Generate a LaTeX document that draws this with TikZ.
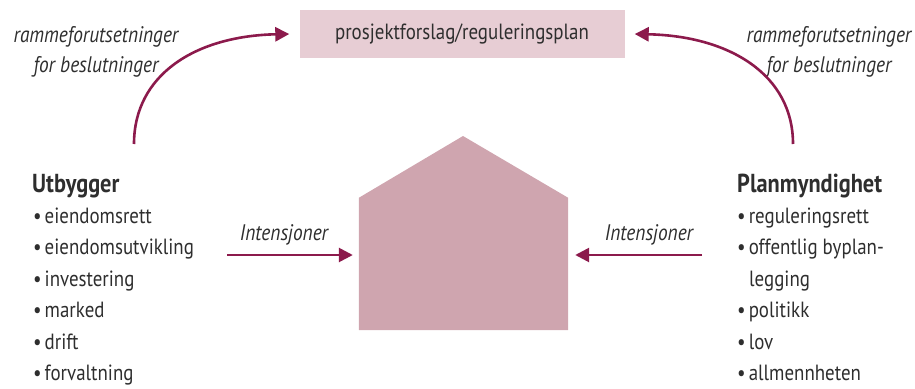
\documentclass[tikz,border=0pt]{standalone}
\usepackage{fontspec}
\setmainfont{PT Sans}[FakeStretch=0.86]
\usetikzlibrary{arrows.meta}
\definecolor{arr}{HTML}{8C1A4C}
\definecolor{boxc}{HTML}{E7CDD4}
\definecolor{housec}{HTML}{CFA5AF}
\definecolor{txt}{HTML}{2E2E2E}
\newcommand{\bul}{•\hspace{3pt}}
\tikzset{
  conn/.style={draw=arr, line width=2.6pt, -{Triangle[length=14pt,width=14pt]}},
  lab/.style={font=\fontsize{22.5}{30}\selectfont\itshape, text=txt, inner sep=0pt},
  head/.style={font=\fontsize{26}{28}\selectfont\bfseries, text=txt, anchor=base west, inner sep=0pt},
  item/.style={font=\fontsize{22}{24}\selectfont, text=txt, anchor=base west, inner sep=0pt},
}
\begin{document}
\begin{tikzpicture}[x=1pt,y=-1pt]
\useasboundingbox (0,0) rectangle (915,388);
% top box
\node[fill=boxc, minimum width=325pt, minimum height=48pt, inner sep=0pt,
      font=\fontsize{22}{24}\selectfont, text=txt] (plan) at (462,34) {prosjektforslag/reguleringsplan};
% house
\node[minimum width=209pt, minimum height=132pt, inner sep=0pt] (house) at (463.5,264) {};
\coordinate (peak) at (463,136);
\fill[housec] (house.south west) -- (house.north west) -- (peak) -- (house.north east) -- (house.south east) -- cycle;
% left list
\node[head] (utb) at (32,192) {Utbygger};
\node[item] (u1) at (33,223) {\bul eiendomsrett};
\node[item] (u2) at (33,254.5) {\bul eiendomsutvikling};
\node[item] (u3) at (33,286) {\bul investering};
\node[item] (u4) at (33,317.5) {\bul marked};
\node[item] (u5) at (33,349) {\bul drift};
\node[item] (u6) at (33,380) {\bul forvaltning};
% right list
\node[head] (pm) at (737,192) {Planmyndighet};
\node[item] (p1) at (737,223) {\bul reguleringsrett};
\node[item] (p2) at (737,254.5) {\bul offentlig byplan-};
\node[item] (p3) at (749,286) {legging};
\node[item] (p4) at (737,317.5) {\bul politikk};
\node[item] (p5) at (737,349) {\bul lov};
\node[item] (p6) at (737,380) {\bul allmennheten};
% curved arrow labels
\node[lab, align=center, anchor=base] (ltxt) at (96,72) {rammeforutsetninger\\for beslutninger};
\node[lab, align=center, anchor=base] (rtxt) at (829,72) {rammeforutsetninger\\for beslutninger};
% curved arrows
\coordinate (lstart) at (134,144);
\coordinate (rstart) at (793,144);
\draw[conn] (lstart) .. controls (134,75) and (195,36) .. ([xshift=-10pt]plan.west);
\draw[conn] (rstart) .. controls (793,75) and (730,36) .. ([xshift=10pt]plan.east);
% straight arrows
\coordinate (la) at (227,255);
\coordinate (ra) at (702,255);
\draw[conn, shorten >=6pt] (la) -- (house.west |- la);
\draw[conn, shorten >=7pt] (ra) -- (house.east |- ra);
\node[lab, anchor=base] (li) at (284,240) {Intensjoner};
\node[lab, anchor=base] (ri) at (649,240) {Intensjoner};
\end{tikzpicture}
\end{document}
